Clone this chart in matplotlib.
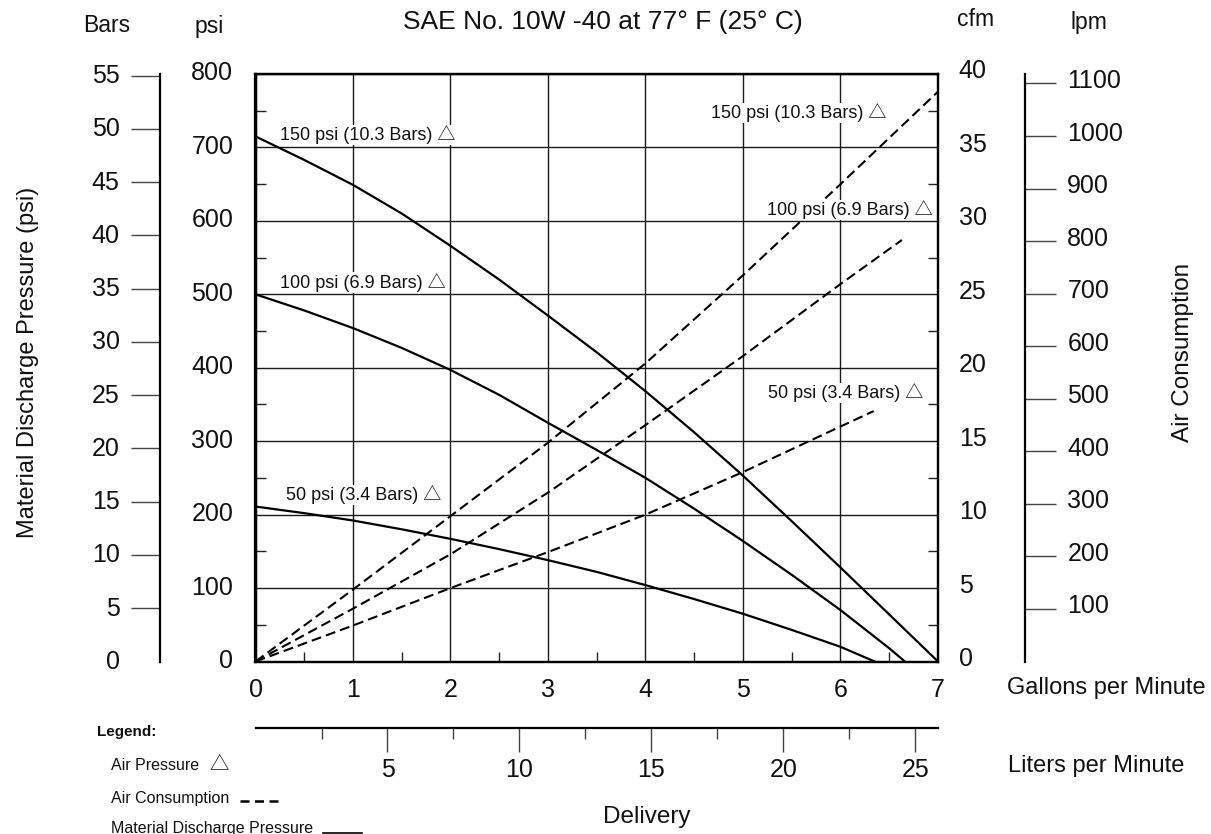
import matplotlib
matplotlib.use("Agg")
import matplotlib.pyplot as plt
import matplotlib.transforms as mtransforms
from matplotlib.lines import Line2D
import numpy as np

plt.rcParams["font.family"] = ["Liberation Sans", "DejaVu Sans"]

# ---------------- data ----------------
title = "SAE No. 10W -40 at 77° F (25° C)"
label_150 = "150 psi (10.3 Bars) △"
label_100 = "100 psi (6.9 Bars) △"
label_50 = "50 psi (3.4 Bars) △"

# Material discharge pressure (psi) vs delivery (gpm)
mdp_150_gpm = [0, 0.5, 1, 1.5, 2, 2.5, 3, 3.5, 4, 4.5, 5, 5.5, 6, 6.5, 7.0]
mdp_150_psi = [715, 683, 649, 610, 566, 520, 471, 421, 368, 312, 253, 191, 128, 64, 0]
mdp_100_gpm = [0, 0.5, 1, 1.5, 2, 2.5, 3, 3.5, 4, 4.5, 5, 5.5, 6, 6.5, 6.66]
mdp_100_psi = [500, 478, 454, 427, 397, 363, 325, 288, 250, 208, 164, 118, 70, 18, 0]
mdp_50_gpm = [0, 0.5, 1, 1.5, 2, 2.5, 3, 3.5, 4, 4.5, 5, 5.5, 6, 6.35]
mdp_50_psi = [211, 202, 192, 180, 167, 153, 138, 122, 104, 85, 65, 43, 20, 0]

# Air consumption (cfm) vs delivery (gpm)
air_150_gpm = [0, 1, 2, 3, 4, 5, 6, 7.0]
air_150_cfm = [0, 4.9, 9.9, 14.9, 20.3, 26.3, 32.5, 38.8]
air_100_gpm = [0, 1, 2, 3, 4, 5, 6, 6.63]
air_100_cfm = [0, 3.6, 7.3, 11.5, 16.1, 20.8, 25.7, 28.7]
air_50_gpm = [0, 1, 2, 3, 4, 5, 6, 6.34]
air_50_cfm = [0, 2.45, 5.0, 7.45, 10.0, 12.9, 16.0, 17.05]

gpm_ticks = [0, 1, 2, 3, 4, 5, 6, 7]
psi_ticks = [0, 100, 200, 300, 400, 500, 600, 700, 800]
cfm_ticks = [0, 5, 10, 15, 20, 25, 30, 35, 40]
bar_ticks = [0, 5, 10, 15, 20, 25, 30, 35, 40, 45, 50, 55]
lpm_ticks = [100, 200, 300, 400, 500, 600, 700, 800, 900, 1000, 1100]
liter_ticks = [5, 10, 15, 20, 25]
liter_minor = [2.5, 7.5, 12.5, 17.5, 22.5]

PSI_PER_BAR = 14.5038

# ---------------- layout helpers ----------------
W, H = 1211, 834
fig = plt.figure(figsize=(W / 100, H / 100), dpi=100)


def fx(p):
    return p / W


def fy(p):
    return 1 - p / H


def rect(l, t, r, b):
    return [fx(l), fy(b), fx(r) - fx(l), fy(t) - fy(b)]


def shift_labels(labels, dy_px):
    off = mtransforms.ScaledTranslation(0, dy_px / 100, fig.dpi_scale_trans)
    for lab in labels:
        lab.set_transform(lab.get_transform() + off)


L, T, R, B = 255.5, 74, 938, 661.5
TICKFS = 18
ink = "#111111"
TRI_FAMILY = ["Liberation Sans", "Noto Sans CJK JP", "DejaVu Sans"]

# ---------------- main axes ----------------
ax = fig.add_axes(rect(L, T, R, B))
ax.set_xlim(0, 7)
ax.set_ylim(0, 800)
ax.set_xticks(gpm_ticks)
ax.set_yticks(psi_ticks)
ax.set_xticks(np.arange(0.5, 7, 1), minor=True)
ax.set_yticks(np.arange(50, 800, 100), minor=True)
ax.grid(True, which="major", color="#1a1a1a", lw=1.0)
ax.set_axisbelow(True)
ax.tick_params(which="major", length=0, labelsize=TICKFS, colors=ink)
ax.tick_params(axis="y", which="major", pad=16)
ax.tick_params(axis="x", which="major", pad=12)
ax.tick_params(which="minor", direction="in", length=7.5, width=1.0, color="#222222")
for s in ax.spines.values():
    s.set_linewidth(1.6)
shift_labels(ax.get_yticklabels(), 3)

ax.plot(mdp_150_gpm, mdp_150_psi, color="black", lw=1.6, zorder=3)
ax.plot(mdp_100_gpm, mdp_100_psi, color="black", lw=1.6, zorder=3)
ax.plot(mdp_50_gpm, mdp_50_psi, color="black", lw=1.6, zorder=3)

# ---------------- cfm twin axis ----------------
ax2 = ax.twinx()
ax2.set_ylim(0, 40)
ax2.set_yticks(cfm_ticks)
ax2.set_yticks(np.arange(2.5, 40, 5), minor=True)
ax2.tick_params(which="major", length=0, labelsize=TICKFS, pad=15, colors=ink)
ax2.tick_params(which="minor", direction="in", length=7.5, width=1.0, color="#222222")
for s in ax2.spines.values():
    s.set_linewidth(1.6)
shift_labels(ax2.get_yticklabels(), 5)

dash = (0, (4.8, 2.4))
ax2.plot(air_150_gpm, air_150_cfm, color="black", lw=1.5, linestyle=dash, zorder=3)
ax2.plot(air_100_gpm, air_100_cfm, color="black", lw=1.5, linestyle=dash, zorder=3)
ax2.plot(air_50_gpm, air_50_cfm, color="black", lw=1.5, linestyle=dash, zorder=3)

# curve labels
lab_kw = dict(fontsize=13, va="center", color=ink, zorder=6, transform=ax.transData,
              family=TRI_FAMILY,
              bbox=dict(facecolor="white", edgecolor="none", pad=0.5))
ax2.text(0.25, 717, label_150, ha="left", **lab_kw)
ax2.text(0.25, 516, label_100, ha="left", **lab_kw)
ax2.text(0.31, 227, label_50, ha="left", **lab_kw)
ax2.text(6.47, 747, label_150, ha="right", **lab_kw)
ax2.text(6.95, 615, label_100, ha="right", **lab_kw)
ax2.text(6.85, 366, label_50, ha="right", **lab_kw)

# ---------------- Bars axis ----------------
axb = fig.add_axes(rect(160, T, 170, B))
axb.patch.set_visible(False)
axb.set_ylim(0, 800 / PSI_PER_BAR)
axb.set_yticks(bar_ticks)
axb.set_xticks([])
for k in ["top", "right", "bottom"]:
    axb.spines[k].set_visible(False)
axb.spines["left"].set_linewidth(1.6)
axb.tick_params(axis="y", direction="out", length=21, width=1.0, color="#444444",
                pad=8, labelsize=TICKFS, labelcolor=ink)
axb.yaxis.get_major_ticks()[0].tick1line.set_visible(False)
shift_labels(axb.get_yticklabels(), 2)

# ---------------- lpm axis ----------------
axl = fig.add_axes(rect(1015, T, 1025, B))
axl.patch.set_visible(False)
axl.set_ylim(0, 1118)
axl.set_yticks(lpm_ticks)
axl.set_xticks([])
for k in ["top", "left", "bottom"]:
    axl.spines[k].set_visible(False)
axl.spines["right"].set_linewidth(1.6)
axl.yaxis.tick_right()
axl.tick_params(axis="y", direction="out", length=22, width=1.0, color="#444444",
                pad=8.5, labelsize=TICKFS, labelcolor=ink)
shift_labels(axl.get_yticklabels(), 5)

# ---------------- liters axis ----------------
axL = fig.add_axes(rect(L, 718, R, 728))
axL.patch.set_visible(False)
axL.set_xlim(0, (R - L) / 26.4)
axL.set_xticks(liter_ticks)
axL.set_xticks(liter_minor, minor=True)
axL.set_yticks([])
for k in ["top", "left", "right"]:
    axL.spines[k].set_visible(False)
axL.spines["bottom"].set_linewidth(1.6)
axL.tick_params(axis="x", which="major", direction="out", length=17.5, width=1.0,
                color="#444444", pad=4, labelsize=TICKFS, labelcolor=ink)
axL.tick_params(axis="x", which="minor", direction="out", length=8, width=1.0,
                color="#444444")

# ---------------- texts ----------------
HFS = 16.5
fig.text(fx(107), fy(25), "Bars", ha="center", va="center", fontsize=HFS, color=ink)
fig.text(fx(209), fy(27), "psi", ha="center", va="center", fontsize=HFS, color=ink)
fig.text(fx(603), fy(22), title, ha="center", va="center", fontsize=19, color=ink)
fig.text(fx(976), fy(20), "cfm", ha="center", va="center", fontsize=HFS, color=ink)
fig.text(fx(1089), fy(23), "lpm", ha="center", va="center", fontsize=HFS, color=ink)
fig.text(fx(1106), fy(688), "Gallons per Minute", ha="center", va="center", fontsize=17, color=ink)
fig.text(fx(1096), fy(766), "Liters per Minute", ha="center", va="center", fontsize=17, color=ink)
fig.text(fx(647), fy(817), "Delivery", ha="center", va="center", fontsize=17.5, color=ink)
fig.text(fx(28), fy(362), "Material Discharge Pressure (psi)", ha="center", va="center",
         rotation=90, fontsize=17, color=ink)
fig.text(fx(1183), fy(352), "Air Consumption", ha="center", va="center",
         rotation=90, fontsize=17.5, color=ink)

# legend block
fig.text(fx(97), fy(732), "Legend:", ha="left", va="center", fontsize=11, fontweight="bold", color=ink)
fig.text(fx(111), fy(766), "Air Pressure", ha="left", va="center", fontsize=11.5, color=ink)
fig.text(fx(219), fy(765), "△", ha="center", va="center", fontsize=14, color=ink, family=TRI_FAMILY)
fig.text(fx(111), fy(799), "Air Consumption", ha="left", va="center", fontsize=11.5, color=ink)
fig.add_artist(Line2D([fx(240), fx(278)], [fy(801), fy(801)], color="black", lw=1.8,
                      linestyle=(0, (3.6, 2.2))))
fig.text(fx(111), fy(829), "Material Discharge Pressure", ha="left", va="center", fontsize=11.5, color=ink)
fig.add_artist(Line2D([fx(323), fx(362)], [fy(833), fy(833)], color="black", lw=1.2))

fig.savefig("out.png", dpi=100)
